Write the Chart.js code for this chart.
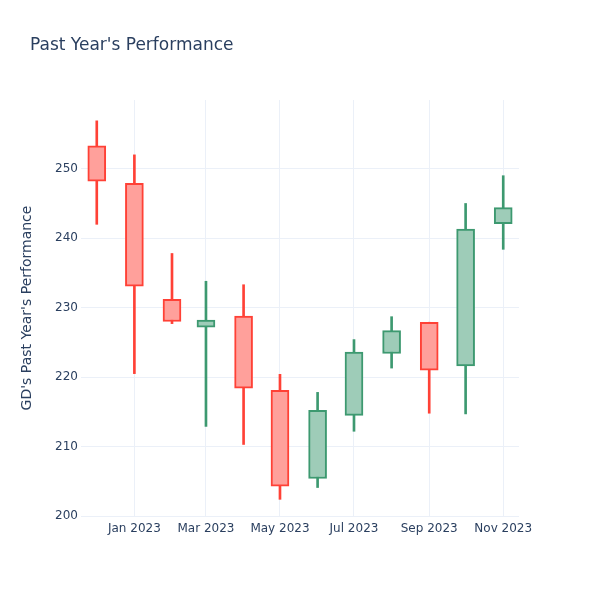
<!DOCTYPE html>
<html>
<head>
<meta charset="utf-8">
<script src="https://cdn.jsdelivr.net/npm/chart.js@4.4.0/dist/chart.umd.min.js"></script>
<style>
  body { margin: 0; background: #fff; }
  #wrap { width: 600px; height: 600px; }
</style>
</head>
<body>
<div id="wrap"><canvas id="chart" width="600" height="600"></canvas></div>
<script>
// Monthly candles (GD)
const dates = ['2022-12-01', '2023-01-01', '2023-02-01', '2023-03-01', '2023-04-01', '2023-05-01',
               '2023-06-01', '2023-07-01', '2023-08-01', '2023-09-01', '2023-10-01', '2023-11-01'];
const opens  = [253.3, 247.9, 231.2, 227.2, 228.8, 218.1, 205.4, 214.5, 223.4, 227.9, 221.6, 242.1];
const highs  = [256.9, 252.0, 237.8, 233.8, 233.3, 220.4, 217.8, 225.4, 228.7, 227.9, 245.0, 249.0];
const lows   = [242.0, 220.5, 227.7, 212.9, 210.3, 202.4, 204.1, 212.2, 221.3, 214.8, 214.7, 238.4];
const closes = [248.2, 233.1, 228.0, 228.2, 218.4, 204.3, 215.2, 223.6, 226.7, 221.0, 241.3, 244.4];

// Tick labels on the date axis
const tickDates  = ['2023-01-01', '2023-03-01', '2023-05-01', '2023-07-01', '2023-09-01', '2023-11-01'];
const tickLabels = ['Jan 2023', 'Mar 2023', 'May 2023', 'Jul 2023', 'Sep 2023', 'Nov 2023'];

// Colors
const colors = {
    upLine: '#3D9970',
    upFill: '#9ECCB8',
    downLine: '#FF4136',
    downFill: '#FFA09B',
    text: '#2a3f5f',
    grid: '#EBF0F8'
};

const FONT = '"DejaVu Sans", Verdana, sans-serif';
const origin = Date.parse('2022-12-01');
const dayIndex = d => (Date.parse(d) - origin) / 86400000;

const isUp = dates.map((d, i) => closes[i] >= opens[i]);
const tickDays = tickDates.map(dayIndex);

const bodies = dates.map((d, i) => ({ x: dayIndex(d), y: [opens[i], closes[i]] }));
const wicks = dates.map((d, i) => ({ x: dayIndex(d), y: [lows[i], highs[i]] }));

// Title drawn at the top-left like the reference
const titlePlugin = {
    id: 'plotTitle',
    afterDraw(chart) {
        const ctx = chart.ctx;
        ctx.save();
        ctx.font = '17px ' + FONT;
        ctx.fillStyle = colors.text;
        ctx.textAlign = 'left';
        ctx.textBaseline = 'middle';
        ctx.fillText("Past Year's Performance", 30, 45.5);
        ctx.restore();
    }
};

const ctx = document.getElementById('chart').getContext('2d');
const chart = new Chart(ctx, {
    type: 'bar',
    data: {
        datasets: [
            {
                label: 'body',
                data: bodies,
                grouped: false,
                barThickness: 18,
                backgroundColor: isUp.map(u => u ? colors.upFill : colors.downFill),
                borderColor: isUp.map(u => u ? colors.upLine : colors.downLine),
                borderWidth: 2,
                borderSkipped: false
            },
            {
                label: 'wick',
                data: wicks,
                grouped: false,
                barThickness: 2,
                backgroundColor: isUp.map(u => u ? colors.upLine : colors.downLine),
                borderWidth: 0
            }
        ]
    },
    options: {
        responsive: false,
        animation: false,
        layout: {
            padding: { top: 100, right: 81, bottom: 0, left: 0 }
        },
        plugins: {
            legend: { display: false },
            tooltip: { enabled: false }
        },
        scales: {
            x: {
                type: 'linear',
                min: -13,
                max: 348,
                offset: false,
                grid: {
                    offset: false,
                    color: colors.grid,
                    lineWidth: 1,
                    drawTicks: false
                },
                border: { display: false },
                afterBuildTicks: scale => {
                    scale.ticks = tickDays.map(v => ({ value: v }));
                },
                afterFit: scale => { scale.height = 84; },
                ticks: {
                    padding: 6,
                    maxRotation: 0,
                    autoSkip: false,
                    color: colors.text,
                    font: { family: FONT, size: 12 },
                    callback: value => {
                        const idx = tickDays.indexOf(value);
                        return idx >= 0 ? tickLabels[idx] : '';
                    }
                }
            },
            y: {
                min: 200,
                max: 259.9,
                grid: {
                    color: colors.grid,
                    lineWidth: 1,
                    drawTicks: false
                },
                border: { display: false },
                afterFit: scale => { scale.width = 81; },
                ticks: {
                    stepSize: 10,
                    includeBounds: false,
                    padding: 3,
                    color: colors.text,
                    font: { family: FONT, size: 12 }
                },
                title: {
                    display: true,
                    text: "GD's Past Year's Performance",
                    color: colors.text,
                    font: { family: FONT, size: 14 },
                    padding: { top: 19, bottom: 0 }
                }
            }
        }
    },
    plugins: [titlePlugin]
});
</script>
</body>
</html>
